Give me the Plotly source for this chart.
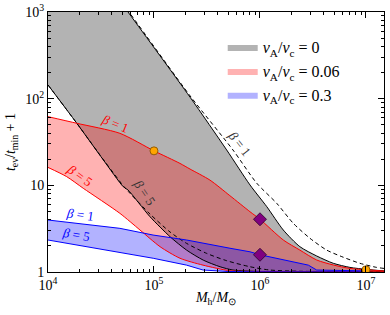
import numpy as np
import plotly.graph_objects as go

# ---- data (M_h / M_sun, t_ev/t_min + 1) ----
# v_A/v_c = 0 : upper boundary (beta = 1, solid)
g_up_M = [1.0e4, 5.69e4, 2.19e5, 4.85e5, 8.05e5, 1.16e6, 1.66e6, 2.38e6, 3.43e6, 4.92e6, 7.06e6, 1.02e7, 1.48e7]
g_up_t = [18600, 1000, 104, 25.6, 10.1, 5.67, 3.05, 1.96, 1.53, 1.26, 1.13, 1.07, 1.03]
# v_A/v_c = 0 : lower boundary (beta = 5, solid)
g_lo_M = [1.0e4, 1.87e4, 3.33e4, 5.13e4, 5.69e4, 9.16e4, 1.42e5, 2.03e5, 2.92e5, 4.20e5, 5.56e5, 1.0e6, 2.4e6, 1.48e7]
g_lo_t = [144, 52, 19.6, 9.64, 8.83, 4.35, 2.55, 1.79, 1.37, 1.15, 1.054, 1.013, 1.005, 1.002]
# dashed curves (beta = 1 and beta = 5)
d1_M = [1.0e4, 5.81e4, 2.24e5, 5.56e5, 9.31e5, 1.44e6, 2.06e6, 2.96e6, 4.26e6, 6.11e6, 8.77e6, 1.26e7, 1.48e7]
d1_t = [18600, 1000, 104, 25.6, 10.6, 6.2, 3.65, 2.45, 1.79, 1.48, 1.26, 1.13, 1.10]
d5_M = [1.0e4, 1.87e4, 3.35e4, 5.21e4, 5.94e4, 9.16e4, 1.42e5, 2.03e5, 3.14e5, 4.85e5, 8.05e5, 1.24e6, 2.4e6, 1.48e7]
d5_t = [144, 52, 19.6, 9.64, 8.09, 4.67, 2.89, 2.14, 1.64, 1.35, 1.15, 1.054, 1.02, 1.005]
# v_A/v_c = 0.06
r_up_M = [1.0e4, 1.87e4, 4.77e4, 1.0e5, 1.76e5, 2.19e5, 3.37e5, 5.2e5, 8.05e5, 1.0e6, 1.66e6, 2.38e6, 3.43e6, 4.92e6, 7.06e6, 1.02e7, 1.48e7]
r_up_t = [62, 52, 39.8, 25, 17.9, 15.4, 11.5, 7.6, 4.96, 4.06, 2.34, 1.79, 1.375, 1.205, 1.10, 1.06, 1.027]
r_lo_M = [1.0e4, 1.50e4, 2.15e4, 4.77e4, 7.38e4, 1.14e5, 1.76e5, 2.90e5, 5.21e5, 1.0e6, 3.0e6, 1.48e7]
r_lo_t = [16.1, 12.6, 9.25, 4.75, 3.05, 1.96, 1.44, 1.20, 1.035, 1.013, 1.006, 1.003]
# v_A/v_c = 0.3
b_up_M = [1.0e4, 4.77e4, 9.8e4, 2.03e5, 5.21e5, 8.05e5, 1.0e6, 1.66e6, 2.86e6, 3.43e6, 7.0e6, 1.0e7]
b_up_t = [3.98, 3.19, 2.67, 2.34, 1.88, 1.71, 1.58, 1.375, 1.20, 1.054, 1.045, 1.03]
b_lo_M = [1.0e4, 4.77e4, 9.84e4, 2.03e5, 2.90e5, 5.0e5, 1.0e6, 1.0e7]
b_lo_t = [2.34, 1.67, 1.44, 1.20, 1.054, 1.013, 1.005, 1.002]
# markers
circ_M = [1.0e5, 1.0e7]
circ_t = [25, 1.06]
diam_M = [1.0e6, 1.0e6]
diam_t = [4.06, 1.58]

legend_names = ["<i>v</i><sub>A</sub>/<i>v</i><sub>c</sub> = 0",
                "<i>v</i><sub>A</sub>/<i>v</i><sub>c</sub> = 0.06",
                "<i>v</i><sub>A</sub>/<i>v</i><sub>c</sub> = 0.3"]
x_tickvals = [1e4, 1e5, 1e6, 1e7]
x_ticktext = ["10<sup>4</sup>", "10<sup>5</sup>", "10<sup>6</sup>", "10<sup>7</sup>"]
y_tickvals = [1, 10, 100, 1000]
y_ticktext = ["1", "10", "10<sup>2</sup>", "10<sup>3</sup>"]

FONT = "Liberation Serif"
fig = go.Figure()

def band(upM, upt, loM, lot, color, name, shape):
    fig.add_trace(go.Scatter(x=list(upM) + list(loM)[::-1], y=list(upt) + list(lot)[::-1],
                             fill="toself", fillcolor=color, mode="lines",
                             line=dict(width=0, color=color, shape=shape, smoothing=0.7), name=name,
                             showlegend=True, hoverinfo="skip"))

band(g_up_M, g_up_t, g_lo_M, g_lo_t, "rgba(128,128,128,0.6)", legend_names[0], "spline")
band(r_up_M, r_up_t, r_lo_M, r_lo_t, "rgba(255,0,0,0.3)", legend_names[1], "spline")
band(b_up_M, b_up_t, b_lo_M, b_lo_t, "rgba(0,0,255,0.3)", legend_names[2], "linear")

def line(M, t, color, dash="solid", shape="spline"):
    fig.add_trace(go.Scatter(x=M, y=t, mode="lines",
                             line=dict(color=color, width=1, dash=dash, shape=shape, smoothing=0.7),
                             showlegend=False, hoverinfo="skip"))

line(d1_M, d1_t, "black", "4px,3px")
line(d5_M, d5_t, "black", "4px,3px")
line(g_up_M, g_up_t, "black")
line(g_lo_M, g_lo_t, "black")
line(r_up_M, r_up_t, "red")
line(r_lo_M, r_lo_t, "red")
line(b_up_M, b_up_t, "blue", shape="linear")
line(b_lo_M, b_lo_t, "blue", shape="linear")

fig.add_trace(go.Scatter(x=circ_M, y=circ_t, mode="markers", showlegend=False,
                         marker=dict(symbol="circle", size=8, color="orange",
                                     line=dict(color="#7a4a00", width=0.8))))
fig.add_trace(go.Scatter(x=diam_M, y=diam_t, mode="markers", showlegend=False,
                         marker=dict(symbol="diamond", size=10, color="purple",
                                     line=dict(color="#2a002a", width=0.8))))

# beta labels: (log10 M, log10 t, colour, angle)
labels = [
    (4.632, 1.708, "red", 22),
    (4.302, 1.119, "red", 36),
    (4.302, 0.658, "blue", 8),
    (4.264, 0.427, "blue", 10),
    (4.915, 0.923, "#333333", 56),
    (5.811, 1.488, "#333333", 52),
]
label_text = ["<i>β</i> = 1", "<i>β</i> = 5", "<i>β</i> = 1", "<i>β</i> = 5", "<i>β</i> = 5", "<i>β</i> = 1"]
for (lx, ly, c, a), txt in zip(labels, label_text):
    fig.add_annotation(x=lx, y=ly, xref="x", yref="y", text=txt, showarrow=False,
                       textangle=a, font=dict(family=FONT, size=13, color=c))

axis_common = dict(type="log", ticks="inside", ticklen=6, tickwidth=0.8, tickcolor="black",
                   showline=True, linecolor="black", linewidth=1, mirror="allticks",
                   showgrid=False, zeroline=False, automargin=False,
                   tickfont=dict(family=FONT, size=14, color="black"),
                   minor=dict(ticks="inside", ticklen=3, tickwidth=0.6, tickcolor="black",
                              dtick="D1", showgrid=False))

fig.update_xaxes(**axis_common, range=[4, np.log10(1.48e7)], tickvals=x_tickvals, ticktext=x_ticktext,
                 title=dict(text="<i>M</i><sub>h</sub>/<i>M</i><sub>⊙</sub>",
                            font=dict(family=FONT, size=14, color="black"), standoff=0))
fig.update_yaxes(**axis_common, range=[0, 3], tickvals=y_tickvals, ticktext=y_ticktext,
                 title=dict(text="<i>t</i><sub>ev</sub>/<i>t</i><sub>min</sub> + 1",
                            font=dict(family=FONT, size=14, color="black"), standoff=6))

fig.update_layout(width=390, height=315, margin=dict(l=48, r=6, t=12, b=43),
                  paper_bgcolor="white", plot_bgcolor="white",
                  legend=dict(x=0.52, y=0.93, xanchor="left", yanchor="top",
                              bgcolor="rgba(0,0,0,0)", font=dict(family=FONT, size=16, color="black"),
                              tracegroupgap=0, itemwidth=30))

fig.write_html("out.html", config={"displayModeBar": False},
               post_script="document.body.style.margin='0px';document.body.style.padding='0px';")
